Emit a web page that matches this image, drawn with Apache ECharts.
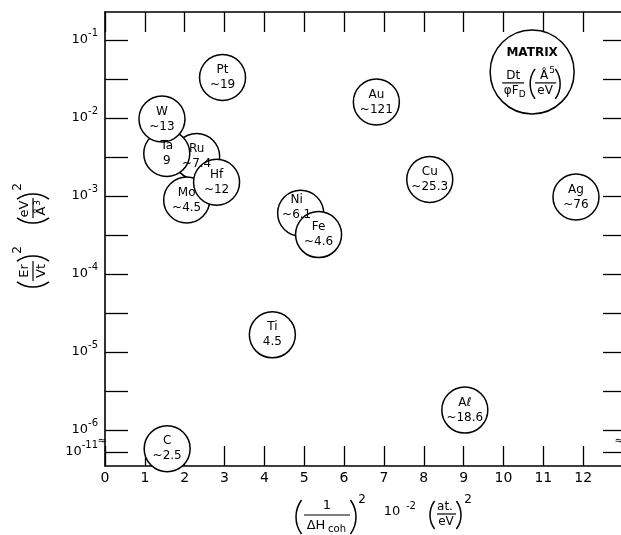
<!DOCTYPE html>
<html><head><meta charset="utf-8">
<script src="https://cdn.jsdelivr.net/npm/echarts@6/dist/echarts.min.js"></script>
<style>html,body{margin:0;padding:0;background:#fff}#c{width:621px;height:535px}</style>
</head><body><div id="c"></div>
<script>
// ---- data ----
const elements = ['Ru','Ta','W','Mo','Hf','Ni','Fe','Pt','Au','Cu','Ag','Ti','Aℓ','C'];
const notes    = ['~7.4','9','~13','~4.5','~12','~6.1','~4.6','~19','~121','~25.3','~76','4.5','~18.6','~2.5'];
const xValues  = [2.30,1.55,1.43,2.05,2.80,4.91,5.36,2.95,6.81,8.15,11.82,4.20,9.03,1.56];
const yValues  = [3.2e-3,3.5e-3,9.7e-3,8.9e-4,1.5e-3,6.0e-4,3.2e-4,3.3e-2,1.6e-2,1.63e-3,9.7e-4,1.66e-5,1.8e-6,1.1e-11];
const matrixX  = [10.72];
const matrixY  = [3.9e-2];
const xTickLabels = ['0','1','2','3','4','5','6','7','8','9','10','11','12'];
const yDecades = [-1,-2,-3,-4,-5,-6];
const brokenDecade = -11;

// ---- axis mapping (log scale with a break below 1e-6) ----
const BREAK_POS = -6.282;           // axis position of 1e-11
function toAxis(v){
  const e = Math.log10(v);
  return e >= -6 ? e : BREAK_POS + (e - brokenDecade);
}
const yMin = -6.4615, yMax = -0.641;
const yTickVals = [BREAK_POS];
for (let k = 0; k <= 10; k++) yTickVals.push(-6 + k*0.5);
const yLabelVals = [BREAK_POS].concat(yDecades.slice().reverse());

const FONT = 'DejaVu Sans';
const labelTweaks = { Ni: [-4,-6] };

const chart = echarts.init(document.getElementById('c'), null, {renderer:'canvas'});

const pointData = elements.map((n,i)=>{
  const d = { name:n, value:[xValues[i], toAxis(yValues[i])] };
  if (labelTweaks[n]) d.label = { offset: labelTweaks[n] };
  return d;
});

const axisLineStyle = { color:'#000', width:1.6 };
const tickStyle = { color:'#000', width:1.3 };

chart.setOption({
  animation:false,
  backgroundColor:'#fff',
  grid:{ left:105, top:12, width:518, height:454, containLabel:false, outerBoundsMode:'none' },
  xAxis:[
    { type:'value', min:0, max:13, interval:1, position:'bottom',
      axisLine:{ show:true, onZero:false, lineStyle:axisLineStyle },
      axisTick:{ show:true, inside:true, length:20, lineStyle:tickStyle },
      splitLine:{ show:false },
      axisLabel:{ margin:5, fontFamily:FONT, fontSize:14, color:'#000', showMaxLabel:false,
        formatter:v => (v>=0 && v<xTickLabels.length) ? xTickLabels[v] : '' } },
    { type:'value', min:0, max:13, interval:1, position:'top',
      axisLine:{ show:true, onZero:false, lineStyle:axisLineStyle },
      axisTick:{ show:true, inside:true, length:20, lineStyle:tickStyle },
      splitLine:{ show:false }, axisLabel:{ show:false } }
  ],
  yAxis:[
    { type:'value', min:yMin, max:yMax, position:'left',
      axisLine:{ show:true, onZero:false, lineStyle:axisLineStyle },
      axisTick:{ show:true, inside:true, length:23, lineStyle:tickStyle, customValues:yTickVals },
      splitLine:{ show:false },
      axisLabel:{ margin:7, customValues:yLabelVals,
        formatter:v => { const n = v < -6.1 ? brokenDecade : Math.round(v); return '{b|10}{s|' + n + '}'; },
        rich:{ b:{ fontFamily:FONT, fontSize:13, color:'#000' },
               s:{ fontFamily:FONT, fontSize:10, color:'#000', padding:[0,0,13,0] } } } },
    { type:'value', min:yMin, max:yMax, position:'right',
      axisLine:{ show:true, onZero:false, lineStyle:axisLineStyle },
      axisTick:{ show:true, inside:true, length:20, lineStyle:tickStyle, customValues:yTickVals },
      splitLine:{ show:false }, axisLabel:{ show:false } }
  ],
  series:[
    { type:'scatter', xAxisIndex:0, yAxisIndex:0, symbol:'circle', symbolSize:46,
      itemStyle:{ color:'#fff', borderColor:'#000', borderWidth:1.5, opacity:1 },
      emphasis:{ disabled:true },
      label:{ show:true, position:'inside', fontFamily:FONT, fontSize:12, lineHeight:15, color:'#000',
        formatter:p => p.name + '\n' + notes[p.dataIndex] },
      data:pointData },
    { type:'scatter', xAxisIndex:0, yAxisIndex:0, symbol:'circle', symbolSize:84,
      itemStyle:{ color:'#fff', borderColor:'#000', borderWidth:1.5, opacity:1 },
      emphasis:{ disabled:true }, label:{ show:false },
      data:[[matrixX[0], toAxis(matrixY[0])]] }
  ]
});

// ---- helpers for annotation text ----
function txt(x, y, t, size, weight){
  return { type:'text', x:x, y:y, z:100,
    style:{ text:t, fontFamily:FONT, fontSize:size, fontWeight:weight||'normal', fill:'#000', align:'center', verticalAlign:'middle' } };
}
function bar(x1, x2, y){
  return { type:'line', z:100, shape:{x1:x1,y1:y,x2:x2,y2:y}, style:{ stroke:'#000', lineWidth:1.2 } };
}
function paren(x, y, h, left){
  const r = h*0.85, th = Math.asin(h/2/r);
  return { type:'arc', z:100,
    shape: left ? { cx:x+r, cy:y, r:r, startAngle:Math.PI-th, endAngle:Math.PI+th, clockwise:true }
                : { cx:x-r, cy:y, r:r, startAngle:-th, endAngle:th, clockwise:true },
    style:{ stroke:'#000', fill:null, lineWidth:1.5 } };
}

const mp = chart.convertToPixel({xAxisIndex:0, yAxisIndex:0}, [matrixX[0], toAxis(matrixY[0])]);
const cx = mp[0], cy = mp[1];
const brkL = chart.convertToPixel({xAxisIndex:0, yAxisIndex:0}, [0, -6.14]);
const brkR = chart.convertToPixel({xAxisIndex:0, yAxisIndex:0}, [12.9, -6.14]);

const graphics = [
  // matrix legend circle content
  txt(cx, cy-19, 'MATRIX', 12, 'bold'),
  txt(cx-19, cy+4, 'Dt', 12),
  bar(cx-30, cx-8, cy+11),
  txt(cx-21, cy+19, 'φF', 12),
  txt(cx-10, cy+23, 'D', 9),
  paren(cx-2, cy+12, 30, true),
  txt(cx+12, cy+4, 'Å', 12),
  txt(cx+20, cy-1, '5', 9),
  bar(cx+3, cx+24, cy+11),
  txt(cx+13, cy+19, 'eV', 12),
  paren(cx+28, cy+12, 30, false),
  // axis break marks
  txt(brkL[0]-3, brkL[1], '≈', 11),
  txt(brkR[0], brkR[1], '≈', 11),
  // x axis title
  paren(296, 517, 34, true),
  txt(327, 506, '1', 13),
  bar(304, 350, 515),
  txt(316, 526, 'ΔH', 13),
  txt(337, 529, 'coh', 10),
  paren(356, 517, 34, false),
  txt(362, 500, '2', 12),
  txt(392, 512, '10', 13),
  txt(411, 506, '-2', 10),
  paren(430, 515, 28, true),
  txt(445, 507, 'at.', 12),
  bar(437, 456, 514),
  txt(446, 522, 'eV', 12),
  paren(461, 515, 28, false),
  txt(468, 500, '2', 12),
  // y axis title (rotated, reads bottom to top)
  { type:'group', x:33, y:234, rotation:Math.PI/2, z:100, children:[
      paren(-53, 0, 32, true),
      txt(-37, -8, 'Er', 13),
      bar(-47, -27, 0),
      txt(-37, 9, 'Vt', 13),
      paren(-22, 0, 32, false),
      txt(-16, -15, '2', 12),
      paren(11, 0, 32, true),
      txt(25, -8, 'eV', 13),
      bar(16, 36, 0),
      txt(23, 9, 'Å', 13),
      txt(31, 5, '3', 9),
      paren(40, 0, 32, false),
      txt(47, -15, '2', 12)
  ]}
];
chart.setOption({ graphic: graphics });
</script>
</body></html>
